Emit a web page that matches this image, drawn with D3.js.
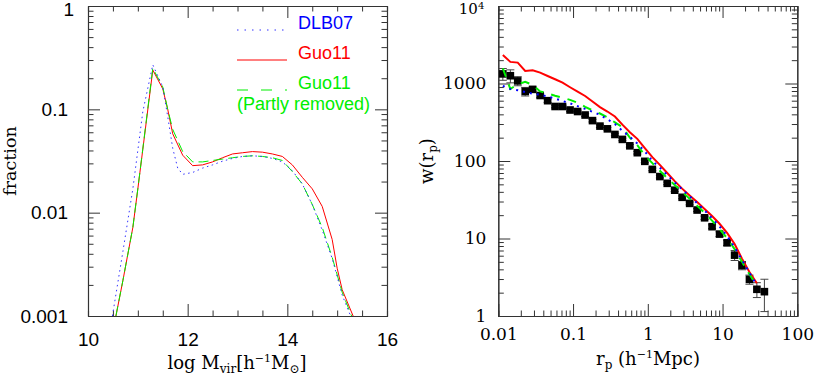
<!DOCTYPE html>
<html>
<head>
<meta charset="utf-8">
<script src="https://cdn.jsdelivr.net/npm/d3@7"></script>
<style>
  body { margin: 0; background: #fff; }
</style>
</head>
<body>
<svg id="chart" width="814" height="378"></svg>
<script>
// left panel: fraction of galaxies vs host halo mass
const massDLB07 = [10.49, 10.7, 10.9, 11.1, 11.3, 11.5, 11.6, 11.7, 11.8, 11.9, 12.1, 12.3, 12.5, 12.7, 12.9, 13.1, 13.3, 13.5, 13.7, 13.9, 14.1, 14.3, 14.5, 14.7, 14.9, 15.1, 15.27];
const fracDLB07 = [0.001, 0.0042, 0.017, 0.095, 0.27, 0.165, 0.085, 0.042, 0.027, 0.0235, 0.0245, 0.027, 0.029, 0.0315, 0.0335, 0.035, 0.0355, 0.035, 0.0335, 0.031, 0.0255, 0.019, 0.012, 0.0068, 0.0036, 0.0016, 0.001];

const massGuo11 = [10.56, 10.7, 10.9, 11.0, 11.1, 11.3, 11.5, 11.6, 11.7, 11.9, 12.1, 12.3, 12.5, 12.7, 12.9, 13.1, 13.3, 13.5, 13.7, 13.9, 14.1, 14.3, 14.5, 14.7, 14.9, 15.0, 15.1, 15.32];
const fracGuo11 = [0.001, 0.0022, 0.0072, 0.017, 0.041, 0.24, 0.158, 0.1, 0.058, 0.036, 0.0285, 0.029, 0.031, 0.034, 0.037, 0.038, 0.039, 0.0385, 0.037, 0.035, 0.029, 0.022, 0.017, 0.0115, 0.0055, 0.0029, 0.0018, 0.001];

const massGuo11P = [10.56, 10.7, 10.9, 11.0, 11.3, 11.5, 11.6, 11.7, 11.9, 12.1, 12.3, 12.5, 12.7, 12.9, 13.1, 13.3, 13.5, 13.7, 13.9, 14.1, 14.3, 14.5, 14.7, 14.9, 15.1, 15.29];
const fracGuo11P = [0.001, 0.0022, 0.0072, 0.017, 0.25, 0.165, 0.1, 0.064, 0.039, 0.031, 0.031, 0.032, 0.033, 0.034, 0.035, 0.0355, 0.035, 0.034, 0.032, 0.025, 0.019, 0.012, 0.0072, 0.0037, 0.0017, 0.001];

const massTicks = [10, 12, 14, 16];
const massTickLabels = ["10", "12", "14", "16"];
const fracTicks = [0.001, 0.01, 0.1, 1];
const fracTickLabels = ["0.001", "0.01", "0.1", "1"];

// right panel: projected correlation function
const rpBins = [0.0115, 0.0145, 0.0182, 0.0229, 0.0288, 0.0363, 0.0457, 0.0575, 0.0724, 0.0912, 0.115, 0.145, 0.182, 0.229, 0.288, 0.363, 0.457, 0.575, 0.724, 0.912, 1.15, 1.45, 1.82, 2.29, 2.88, 3.63, 4.57, 5.75, 7.24, 9.12, 11.5, 14.5, 18.2, 22.9, 28.8, 36.3];
const wpObs = [1330, 1260, 1080, 790, 840, 700, 600, 505, 505, 455, 435, 392, 332, 282, 260, 220, 190, 157, 128, 99, 78, 63, 51.5, 42, 34, 28.4, 23.3, 18.5, 14.2, 11.4, 8.8, 6.1, 4.5, 2.97, 2.21, 2.06];
const wpErr = [230, 240, 145, 100, 60, 45, 30, 20, 20, 18, 17, 15, 13, 11, 10, 8, 7, 6, 5, 4, 3, 2.5, 2, 1.7, 1.4, 1.2, 1.0, 0.9, 0.8, 0.8, 0.7, 0.9, 0.55, 0.4, 0.48, 0.92];
// models stop one bin earlier than the data
const wpGuo11 = [2330, 1900, 1860, 1450, 1480, 1380, 1250, 1135, 1025, 895, 785, 690, 585, 495, 435, 375, 295, 235, 193, 147, 112, 89, 70, 55, 44, 36, 29.5, 24, 19.5, 15.5, 11.8, 8.5, 5.5, 3.7, 2.65];
const wpGuo11P = [1570, 850, 980, 1050, 960, 790, 745, 695, 655, 615, 565, 500, 450, 410, 365, 315, 273, 200, 160, 118, 94, 75, 60, 49, 40, 32.5, 26.5, 21.5, 17, 13.3, 10.1, 7.3, 5.0, 3.45, 2.45];
const wpDLB07 = [930, 850, 820, 775, 740, 715, 680, 640, 595, 555, 510, 470, 430, 395, 345, 300, 245, 205, 168, 133, 100, 82, 66, 53, 43, 35, 28.5, 23, 18.3, 14.3, 10.8, 7.7, 5.3, 3.6, 2.5];

const rpTicks = [0.01, 0.1, 1, 10, 100];
const rpTickLabels = ["0.01", "0.1", "1", "10", "100"];
const wpTicks = [1, 10, 100, 1000, 10000];
const wpTickLabels = ["1", "10", "100", "1000", ""];

const legendNames = ["DLB07", "Guo11", "Guo11"];

const SANS = "'Liberation Sans', Arial, sans-serif";
const SERIF = "'DejaVu Serif', serif";
const AXIS_COL = "#333";

const svg = d3.select("#chart");
svg.append("rect").attr("width", 814).attr("height", 378).attr("fill", "#fff");

function minorLog(scale) {
    return scale.ticks().filter(v => Math.abs(Math.log10(v) - Math.round(Math.log10(v))) > 1e-6);
}

// draws the box with inward ticks on all four sides
function frame(x, y, xMajor, xMinor, yMajor, yMinor, xLabels, yLabels, opts) {
    const [x0, x1] = x.range();
    const [y0, y1] = y.range(); // y0 bottom, y1 top
    const g = svg.append("g");

    const bottom = g.append("g").attr("transform", `translate(0,${y0})`)
        .call(d3.axisBottom(x).tickValues(xMajor).tickSize(-12).tickSizeOuter(0)
            .tickPadding(opts.xPad).tickFormat((d, i) => xLabels[i]));
    g.append("g").attr("transform", `translate(0,${y0})`)
        .call(d3.axisBottom(x).tickValues(xMinor).tickSize(-5.5).tickFormat(""));
    g.append("g").attr("transform", `translate(0,${y1})`)
        .call(d3.axisTop(x).tickValues(xMajor).tickSize(-12).tickSizeOuter(0).tickFormat(""));
    g.append("g").attr("transform", `translate(0,${y1})`)
        .call(d3.axisTop(x).tickValues(xMinor).tickSize(-5.5).tickFormat(""));

    const left = g.append("g").attr("transform", `translate(${x0},0)`)
        .call(d3.axisLeft(y).tickValues(yMajor).tickSize(-12).tickSizeOuter(0)
            .tickPadding(opts.yPad).tickFormat((d, i) => yLabels[i]));
    g.append("g").attr("transform", `translate(${x0},0)`)
        .call(d3.axisLeft(y).tickValues(yMinor).tickSize(-5.5).tickFormat(""));
    g.append("g").attr("transform", `translate(${x1},0)`)
        .call(d3.axisRight(y).tickValues(yMajor).tickSize(-12).tickSizeOuter(0).tickFormat(""));
    g.append("g").attr("transform", `translate(${x1},0)`)
        .call(d3.axisRight(y).tickValues(yMinor).tickSize(-5.5).tickFormat(""));

    g.selectAll("path.domain").attr("stroke", AXIS_COL).attr("stroke-width", 1.1);
    g.selectAll(".tick line").attr("stroke", AXIS_COL).attr("stroke-width", 1);
    g.selectAll("text").attr("font-family", opts.font).attr("font-size", opts.size).attr("fill", "#000");
    return { bottom, left };
}

// ---------------- left panel ----------------
const xL = d3.scaleLinear().domain([10, 16]).range([88, 387]);
const yL = d3.scaleLog().domain([0.001, 1]).range([316, 6]);

const axL = frame(xL, yL, massTicks, d3.range(10.5, 16, 0.5).filter(v => v % 2 !== 0), fracTicks, minorLog(yL),
    massTickLabels, fracTickLabels, { font: SANS, size: 19, xPad: 17, yPad: 20 });
// top label "1" sits a little lower and to the right, inside the picture
axL.left.selectAll(".tick text").filter(d => d === 1).attr("x", -14).attr("y", 3);

const lineL = d3.line().x(d => xL(d[0])).y(d => yL(d[1]));
svg.append("path").datum(d3.zip(massGuo11, fracGuo11)).attr("d", lineL)
    .attr("fill", "none").attr("stroke", "#ff0000").attr("stroke-width", 1);
svg.append("path").datum(d3.zip(massGuo11P, fracGuo11P)).attr("d", lineL)
    .attr("fill", "none").attr("stroke", "#00ee00").attr("stroke-width", 1).attr("stroke-dasharray", "10,5");
svg.append("path").datum(d3.zip(massDLB07, fracDLB07)).attr("d", lineL)
    .attr("fill", "none").attr("stroke", "#3333ff").attr("stroke-width", 1).attr("stroke-dasharray", "1.5,3.5");

// legend
const legend = svg.append("g").attr("font-family", SANS).attr("font-size", 18);
const legStyles = [
    { col: "#0000ff", line: "#3333ff", dash: "1.5,6", y: 30 },
    { col: "#ff0000", line: "#ff0000", dash: null, y: 60 },
    { col: "#00ee00", line: "#00ee00", dash: "11,13", y: 90 }
];
legStyles.forEach((s, i) => {
    legend.append("line").attr("x1", 237).attr("x2", 287).attr("y1", s.y).attr("y2", s.y)
        .attr("stroke", s.line).attr("stroke-width", 1).attr("stroke-dasharray", s.dash);
    legend.append("text").attr("x", 298).attr("y", s.y - 1.5).attr("fill", s.col).text(legendNames[i]);
});
legend.append("text").attr("x", 237).attr("y", 110).attr("fill", "#00ee00").text("(Partly removed)");

// axis titles
svg.append("text").attr("transform", "translate(15.5,161) rotate(-90)")
    .attr("text-anchor", "middle").attr("font-family", SERIF).attr("font-size", 17.5).text("fraction");
const xtL = svg.append("text").attr("x", 237).attr("y", 369).attr("text-anchor", "middle")
    .attr("font-family", SERIF).attr("font-size", 18);
xtL.append("tspan").text("log  M");
xtL.append("tspan").attr("font-size", 12).attr("dy", 4).text("vir");
xtL.append("tspan").attr("dy", -4).text("[h");
xtL.append("tspan").attr("font-size", 11).attr("dy", -7).text("−1");
xtL.append("tspan").attr("dy", 7).text("M");
xtL.append("tspan").attr("font-size", 12).attr("dy", 4).text("⊙");
xtL.append("tspan").attr("dy", -4).text("]");

// ---------------- right panel ----------------
const xR = d3.scaleLog().domain([0.01, 100]).range([498.3, 797.3]);
const yR = d3.scaleLog().domain([1, 10000]).range([316, 6]);

const axR = frame(xR, yR, rpTicks, minorLog(xR), wpTicks, minorLog(yR),
    rpTickLabels, wpTickLabels, { font: SERIF, size: 17, xPad: 12, yPad: 12 });

// 10^4 label with superscript, kept inside the picture
const topLabel = axR.left.selectAll(".tick text").filter(d => d === 10000)
    .attr("x", -14).attr("y", 7.3).attr("dy", 0);
topLabel.append("tspan").attr("font-size", 15).text("10");
topLabel.append("tspan").attr("font-size", 10).attr("dy", -4.5).text("4");

// error bars and points
const obs = rpBins.map((r, i) => ({ r, w: wpObs[i], e: wpErr[i] }));
const eb = svg.append("g").attr("stroke", "#444").attr("stroke-width", 1);
obs.forEach(d => {
    const cx = xR(d.r), lo = yR(d.w - d.e), hi = yR(d.w + d.e);
    eb.append("line").attr("x1", cx).attr("x2", cx).attr("y1", lo).attr("y2", hi);
    eb.append("line").attr("x1", cx - 4).attr("x2", cx + 4).attr("y1", lo).attr("y2", lo);
    eb.append("line").attr("x1", cx - 4).attr("x2", cx + 4).attr("y1", hi).attr("y2", hi);
});
svg.append("g").selectAll("rect").data(obs).enter().append("rect")
    .attr("x", d => xR(d.r) - 3.8).attr("y", d => yR(d.w) - 3.8)
    .attr("width", 7.6).attr("height", 7.6).attr("fill", "#000");

const lineR = d3.line().x(d => xR(d[0])).y(d => yR(d[1]));
const rpModel = rpBins.slice(0, wpGuo11.length);
svg.append("path").datum(d3.zip(rpModel, wpGuo11)).attr("d", lineR)
    .attr("fill", "none").attr("stroke", "#ff0000").attr("stroke-width", 2);
svg.append("path").datum(d3.zip(rpModel, wpGuo11P)).attr("d", lineR)
    .attr("fill", "none").attr("stroke", "#00ee00").attr("stroke-width", 2).attr("stroke-dasharray", "9,8");
svg.append("path").datum(d3.zip(rpModel, wpDLB07)).attr("d", lineR)
    .attr("fill", "none").attr("stroke", "#0000ff").attr("stroke-width", 2).attr("stroke-dasharray", "2,5");

// axis titles
const ytR = svg.append("text").attr("transform", "translate(433,161) rotate(-90)")
    .attr("text-anchor", "middle").attr("font-family", SERIF).attr("font-size", 18);
ytR.append("tspan").text("w(r");
ytR.append("tspan").attr("font-size", 12).attr("dy", 4).text("p");
ytR.append("tspan").attr("dy", -4).text(")");

const xtR = svg.append("text").attr("x", 648).attr("y", 365).attr("text-anchor", "middle")
    .attr("font-family", SERIF).attr("font-size", 18);
xtR.append("tspan").text("r");
xtR.append("tspan").attr("font-size", 12).attr("dy", 4).text("p");
xtR.append("tspan").attr("dy", -4).text("  (h");
xtR.append("tspan").attr("font-size", 11).attr("dy", -7).text("−1");
xtR.append("tspan").attr("dy", 7).text("Mpc)");
</script>
</body>
</html>
